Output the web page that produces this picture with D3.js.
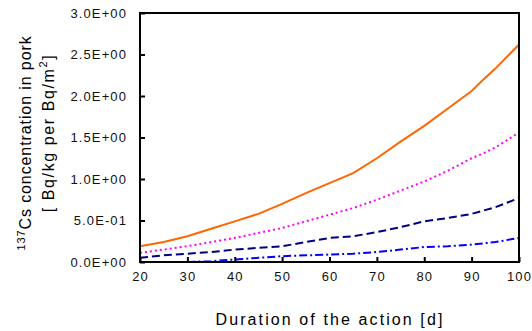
<!DOCTYPE html>
<html>
<head>
<meta charset="utf-8">
<script src="https://cdn.jsdelivr.net/npm/d3@7"></script>
<style>
body { margin: 0; background: #fff; }
text { font-family: "Liberation Sans", Arial, sans-serif; fill: #000; }
.tick text { font-size: 13px; letter-spacing: 1.1px; fill: #111; }
</style>
</head>
<body>
<script>
// duration of the action [d]
var days = [20, 25, 30, 35, 40, 45, 50, 55, 60, 65, 70, 75, 80, 85, 90, 92.5, 95, 100];
var orange = [0.19, 0.24, 0.31, 0.40, 0.49, 0.58, 0.70, 0.83, 0.95, 1.07, 1.25, 1.45, 1.64, 1.85, 2.06, 2.20, 2.33, 2.62];
var pink = [0.11, 0.15, 0.19, 0.24, 0.29, 0.35, 0.41, 0.49, 0.57, 0.65, 0.75, 0.86, 0.97, 1.10, 1.25, 1.31, 1.38, 1.56];
var navy = [0.05, 0.08, 0.10, 0.12, 0.15, 0.17, 0.19, 0.24, 0.29, 0.31, 0.36, 0.42, 0.49, 0.53, 0.58, 0.62, 0.66, 0.77];
var blueDays = [30, 35, 40, 45, 50, 55, 60, 65, 70, 75, 80, 85, 90, 95, 100];
var blue = [0.0, 0.01, 0.03, 0.05, 0.07, 0.08, 0.09, 0.10, 0.12, 0.15, 0.18, 0.19, 0.21, 0.24, 0.29];
var yTicks = [0, 0.5, 1.0, 1.5, 2.0, 2.5, 3.0];
var yTickLabels = ["0.0E+00", "5.0E-01", "1.0E+00", "1.5E+00", "2.0E+00", "2.5E+00", "3.0E+00"];
var xTicks = [20, 30, 40, 50, 60, 70, 80, 90, 100];

var w = 532, h = 331;
var plotLeft = 140, plotRight = 519, plotTop = 13, plotBottom = 262;

var svg = d3.select("body").append("svg")
    .attr("width", w)
    .attr("height", h);

var x = d3.scaleLinear().domain([20, 100]).range([plotLeft, plotRight]);
var y = d3.scaleLinear().domain([0, 3]).range([plotBottom, plotTop]);

// series
var series = [
    {xs: days, ys: orange, color: "#ff6600", dash: null},
    {xs: days, ys: pink, color: "#ff00ff", dash: "2,3"},
    {xs: days, ys: navy, color: "#000080", dash: "8,4"},
    {xs: blueDays, ys: blue, color: "#0000ff", dash: "8,3,2,3"}
];

var line = d3.line()
    .x(function(d){ return x(d[0]); })
    .y(function(d){ return y(d[1]); });

series.forEach(function(s){
    svg.append("path")
        .datum(s.xs.map(function(v, i){ return [v, s.ys[i]]; }))
        .attr("fill", "none")
        .attr("stroke", s.color)
        .attr("stroke-width", 2)
        .attr("stroke-dasharray", s.dash)
        .attr("d", line);
});

// frame
svg.append("rect")
    .attr("x", plotLeft).attr("y", plotTop)
    .attr("width", plotRight - plotLeft).attr("height", plotBottom - plotTop)
    .attr("fill", "none").attr("stroke", "#000").attr("stroke-width", 2);

// Y axis
var yAxis = svg.append("g")
    .attr("transform", "translate(" + plotLeft + ",0)")
    .call(d3.axisLeft(y).tickValues(yTicks)
        .tickFormat(function(d, i){ return yTickLabels[i]; })
        .tickSizeInner(-5).tickSizeOuter(0).tickPadding(13));
yAxis.select(".domain").remove();
yAxis.selectAll(".tick line").attr("stroke-width", 2);

// X axis
var xAxis = svg.append("g")
    .attr("transform", "translate(0," + plotBottom + ")")
    .call(d3.axisBottom(x).tickValues(xTicks)
        .tickSizeInner(-5).tickSizeOuter(0).tickPadding(10));
xAxis.select(".domain").remove();
xAxis.selectAll(".tick line").attr("stroke-width", 2);

// X title
svg.append("text")
    .attr("x", 330).attr("y", 325)
    .attr("text-anchor", "middle")
    .style("font-size", "16px")
    .style("letter-spacing", "2.1px")
    .text("Duration of the action [d]");

// Y title
var yt = svg.append("text")
    .attr("transform", "translate(31,143) rotate(-90)")
    .attr("text-anchor", "middle")
    .style("font-size", "16px")
    .style("letter-spacing", "0.9px");
yt.append("tspan").attr("font-size", "11px").attr("dy", "-6").text("137");
yt.append("tspan").attr("dy", "6").text("Cs concentration in pork");

var yt2 = svg.append("text")
    .attr("transform", "translate(53.5,133) rotate(-90)")
    .attr("text-anchor", "middle")
    .style("font-size", "16px")
    .style("letter-spacing", "1.6px");
yt2.append("tspan").text("[ Bq/kg per Bq/m");
yt2.append("tspan").attr("font-size", "11px").attr("dy", "-7").text("2");
yt2.append("tspan").attr("dy", "7").text("]");
</script>
</body>
</html>
